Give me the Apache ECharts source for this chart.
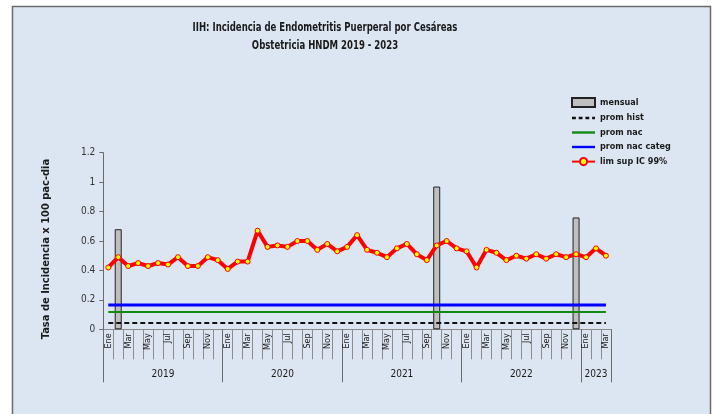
<!DOCTYPE html>
<html>
<head>
<meta charset="utf-8">
<script src="https://cdn.jsdelivr.net/npm/echarts@6/dist/echarts.min.js"></script>
<style>
  html, body { margin: 0; padding: 0; background: #fff; }
  #main { width: 719px; height: 414px; }
</style>
</head>
<body>
<div id="main"></div>
<script>
// meses por año (2019 - 2023)
var years = ['2019', '2020', '2021', '2022', '2023'];
var monthsPerYear = [12, 12, 12, 12, 3];
var monthNames = ['Ene', 'Feb', 'Mar', 'Abr', 'May', 'Jun', 'Jul', 'Ago', 'Sep', 'Oct', 'Nov', 'Dic'];

// tasa mensual (barras)
var mensual = [
  0, 0.68, 0, 0, 0, 0, 0, 0, 0, 0, 0, 0,
  0, 0, 0, 0, 0, 0, 0, 0, 0, 0, 0, 0,
  0, 0, 0, 0, 0, 0, 0, 0, 0, 0.97, 0, 0,
  0, 0, 0, 0, 0, 0, 0, 0, 0, 0, 0, 0.76,
  0, 0, 0
];
// limite superior IC 99%
var limSup = [
  0.42, 0.49, 0.43, 0.45, 0.43, 0.45, 0.44, 0.49, 0.43, 0.43, 0.49, 0.47,
  0.41, 0.46, 0.46, 0.67, 0.56, 0.57, 0.56, 0.60, 0.60, 0.54, 0.58, 0.53,
  0.56, 0.64, 0.54, 0.52, 0.49, 0.55, 0.58, 0.51, 0.47, 0.57, 0.60, 0.55,
  0.53, 0.42, 0.54, 0.52, 0.47, 0.50, 0.48, 0.51, 0.48, 0.51, 0.49, 0.51,
  0.49, 0.55, 0.50
];
var promHist = 0.043;
var promNac = 0.117;
var promNacCateg = 0.165;

var yearBounds = [0, 12, 24, 36, 48, 51];

// categorias del eje x
var categories = [];
for (var i = 0; i < years.length; i++) {
  for (var m = 0; m < monthsPerYear[i]; m++) {
    categories.push(monthNames[m]);
  }
}
// centro de cada año para la etiqueta
var yearCenters = [];
for (var k = 0; k < years.length; k++) {
  yearCenters.push((yearBounds[k] + yearBounds[k + 1]) / 2);
}

var flat = function (v) {
  return categories.map(function () { return v; });
};

var font = "'DejaVu Sans Condensed', 'Liberation Sans', sans-serif";
// iconos de leyenda tipo linea
var lineIcon = 'path://M0,0L24,0L24,2.5L0,2.5Z';
var dashIcon = 'path://M0,0L4,0L4,2.5L0,2.5Z M7,0L11,0L11,2.5L7,2.5Z M14,0L18,0L18,2.5L14,2.5Z M21,0L24,0L24,2.5L21,2.5Z';

var chart = echarts.init(document.getElementById('main'));
chart.setOption({
  animation: false,
  backgroundColor: '#ffffff',
  textStyle: { fontFamily: font },
  graphic: [{
    type: 'rect',
    z: -10,
    silent: true,
    shape: { x: 12.5, y: 6.5, width: 698, height: 420 },
    style: { fill: '#dce6f2', stroke: '#6b6b6b', lineWidth: 1.5 }
  }, {
    type: 'text',
    x: 325,
    y: 19,
    scaleX: 0.76,
    silent: true,
    style: {
      text: 'IIH: Incidencia de Endometritis Puerperal por Cesáreas\nObstetricia HNDM 2019 - 2023',
      x: 0,
      y: 0,
      align: 'center',
      fill: '#1a1a1a',
      font: 'bold 12.5px ' + font,
      lineHeight: 18
    }
  }],
  legend: {
    orient: 'vertical',
    left: 571,
    top: 97,
    padding: 0,
    itemGap: 5.5,
    itemWidth: 23,
    itemHeight: 9,
    textStyle: { fontFamily: font, fontSize: 9, fontWeight: 'bold', color: '#1a1a1a' },
    data: [
      { name: 'mensual', icon: 'rect', itemHeight: 7 },
      { name: 'prom hist', icon: dashIcon, itemHeight: 3 },
      { name: 'prom nac', icon: lineIcon, itemHeight: 3 },
      { name: 'prom nac categ', icon: lineIcon, itemHeight: 3 },
      { name: 'lim sup IC 99%', itemHeight: 7 }
    ]
  },
  grid: {
    left: 103.3,
    top: 152.7,
    width: 507.6,
    height: 176.6,
    containLabel: false,
    outerBoundsMode: 'none'
  },
  xAxis: [{
    type: 'category',
    data: categories,
    boundaryGap: true,
    axisLine: { show: true, lineStyle: { color: '#8c8c8c' } },
    axisTick: { show: true, interval: 0, length: 30, lineStyle: { color: '#8c8c8c' } },
    axisLabel: { interval: 1, rotate: 90, fontSize: 9, color: '#1a1a1a', margin: 4 }
  }, {
    type: 'value',
    min: 0,
    max: 51,
    position: 'bottom',
    axisLine: { show: false },
    splitLine: { show: false },
    axisTick: { show: true, customValues: yearBounds, length: 53, lineStyle: { color: '#6b6b6b' } },
    axisLabel: {
      customValues: yearCenters,
      margin: 40,
      fontSize: 10,
      color: '#1a1a1a',
      formatter: function (v) {
        return years[yearCenters.indexOf(v)] || '';
      }
    }
  }],
  yAxis: {
    type: 'value',
    min: 0,
    max: 1.2,
    interval: 0.2,
    name: 'Tasa de Incidencia x 100 pac-dia',
    nameLocation: 'middle',
    nameGap: 52,
    nameTextStyle: { fontFamily: font, fontSize: 11, fontWeight: 'bold', color: '#1a1a1a', padding: [0, 16, 0, 0] },
    axisLine: { show: true, lineStyle: { color: '#6b6b6b' } },
    axisTick: { show: true, length: 4, lineStyle: { color: '#6b6b6b' } },
    splitLine: { show: false },
    axisLabel: { fontSize: 10, color: '#333', margin: 8 }
  },
  series: [{
    name: 'mensual',
    type: 'bar',
    barWidth: 7,
    data: mensual.map(function (v) { return v === 0 ? '-' : v; }),
    itemStyle: { color: '#bfbfbf', borderColor: '#222', borderWidth: 1 }
  }, {
    name: 'prom hist',
    type: 'line',
    data: flat(promHist),
    symbol: 'none',
    itemStyle: { color: '#111' },
    lineStyle: { color: '#111', width: 2, type: [5, 3] }
  }, {
    name: 'prom nac',
    type: 'line',
    data: flat(promNac),
    symbol: 'none',
    itemStyle: { color: '#118a11' },
    lineStyle: { color: '#118a11', width: 2 }
  }, {
    name: 'prom nac categ',
    type: 'line',
    data: flat(promNacCateg),
    symbol: 'none',
    itemStyle: { color: '#0000ff' },
    lineStyle: { color: '#0000ff', width: 3 }
  }, {
    name: 'lim sup IC 99%',
    type: 'line',
    data: limSup,
    symbol: 'circle',
    symbolSize: 5,
    itemStyle: { color: '#ffff00', borderColor: '#ff0000', borderWidth: 1 },
    lineStyle: { color: '#ff0000', width: 4 }
  }]
});
</script>
</body>
</html>
